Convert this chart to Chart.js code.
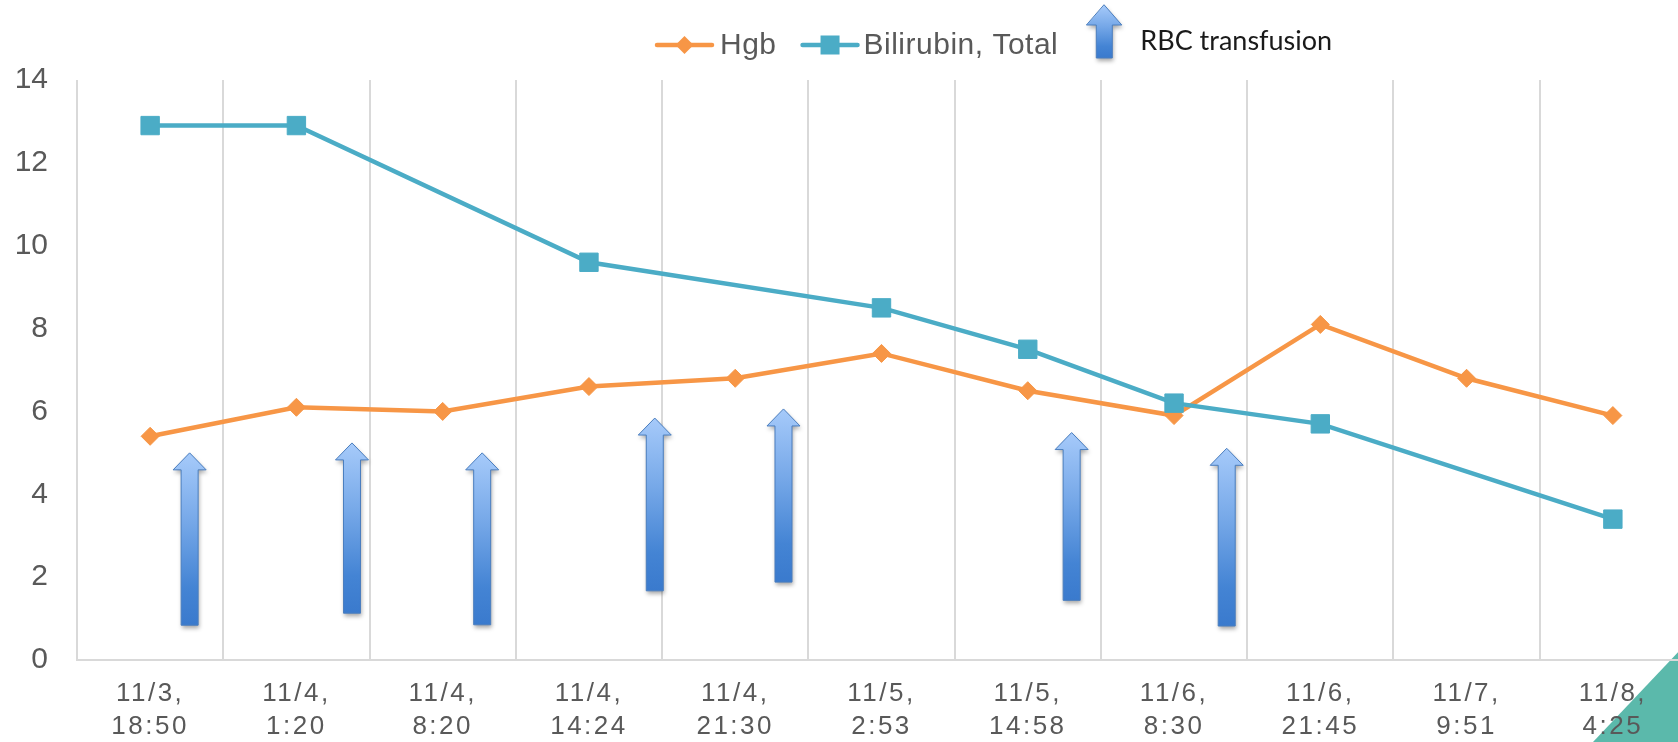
<!DOCTYPE html>
<html>
<head>
<meta charset="utf-8">
<script src="https://cdn.jsdelivr.net/npm/chart.js@4.4.1/dist/chart.umd.min.js"></script>
<style>
  html, body { margin: 0; padding: 0; background: #ffffff; overflow: hidden; }
  #wrap { position: absolute; left: 0; top: 0; width: 1700px; height: 742px; }
</style>
</head>
<body>
<div id="wrap"><canvas id="chart"></canvas></div>
<script>
// Sample times (two-line labels: date, time)
const categories = [
  ["11/3,", "18:50"], ["11/4,", "1:20"], ["11/4,", "8:20"], ["11/4,", "14:24"],
  ["11/4,", "21:30"], ["11/5,", "2:53"], ["11/5,", "14:58"], ["11/6,", "8:30"],
  ["11/6,", "21:45"], ["11/7,", "9:51"], ["11/8,", "4:25"]
];
// Hemoglobin (g/dL)
const hgb = [5.4, 6.1, 6.0, 6.6, 6.8, 7.4, 6.5, 5.9, 8.1, 6.8, 5.9];
// Total bilirubin (mg/dL); null where no sample was drawn
const bilirubin = [12.9, 12.9, null, 9.6, null, 8.5, 7.5, 6.2, 5.7, null, 3.4];
// Value axis ticks
const yTicks = [0, 2, 4, 6, 8, 10, 12, 14];
// RBC transfusions: position along the time axis (category index) and arrow extent on the value axis
const transfusionAt   = [0.27, 1.38, 2.27, 3.45, 4.33, 6.30, 7.36];
const transfusionFrom = [0.84, 1.13, 0.85, 1.67, 1.88, 1.44, 0.82];
const transfusionTo   = [5.00, 5.24, 5.00, 5.84, 6.06, 5.49, 5.11];

const ORANGE = '#F79646';
const TEAL = '#4BACC6';
const GRID = '#D9D9D9';
const TEXT = '#595959';
const FONT = "'Liberation Sans', Arial, sans-serif";

function drawArrow(ctx, cx, yTop, yBottom, shaftW, headW, headH) {
  const grad = ctx.createLinearGradient(0, yTop, 0, yBottom);
  grad.addColorStop(0, '#A6CAFA');
  grad.addColorStop(0.4, '#76A8E8');
  grad.addColorStop(0.78, '#4484D4');
  grad.addColorStop(1, '#3A7ACD');
  ctx.save();
  ctx.beginPath();
  ctx.moveTo(cx, yTop);
  ctx.lineTo(cx + headW / 2, yTop + headH);
  ctx.lineTo(cx + shaftW / 2, yTop + headH);
  ctx.lineTo(cx + shaftW / 2, yBottom);
  ctx.lineTo(cx - shaftW / 2, yBottom);
  ctx.lineTo(cx - shaftW / 2, yTop + headH);
  ctx.lineTo(cx - headW / 2, yTop + headH);
  ctx.closePath();
  ctx.shadowColor = 'rgba(0,0,0,0.35)';
  ctx.shadowBlur = 4;
  ctx.shadowOffsetX = 1;
  ctx.shadowOffsetY = 3;
  ctx.fillStyle = grad;
  ctx.fill();
  ctx.shadowColor = 'transparent';
  ctx.lineWidth = 1;
  ctx.strokeStyle = '#4A7EBF';
  ctx.stroke();
  ctx.restore();
}

// White page and the teal corner accent
const backdrop = {
  id: 'backdrop',
  beforeDraw(chart) {
    const ctx = chart.ctx;
    const w = chart.width, h = chart.height;
    ctx.save();
    ctx.fillStyle = '#ffffff';
    ctx.fillRect(0, 0, w, h);
    ctx.fillStyle = '#5BB9AB';
    ctx.beginPath();
    ctx.moveTo(1593, h);
    ctx.lineTo(1700, h - 113);
    ctx.lineTo(1700, h);
    ctx.closePath();
    ctx.fill();
    ctx.restore();
  }
};

// Spaced-out lettering for the time labels
const spacedLabels = {
  id: 'spacedLabels',
  afterLayout(chart) {
    const sc = chart.scales.x;
    if (sc && !sc._spaced) {
      const orig = sc.drawLabels;
      sc.drawLabels = function (area) {
        const ctx = this.ctx;
        ctx.save();
        if ('letterSpacing' in ctx) ctx.letterSpacing = '2.5px';
        orig.call(this, area);
        ctx.restore();
      };
      sc._spaced = true;
    }
  }
};

// Transfusion arrows placed with the chart's own scales
const transfusions = {
  id: 'transfusions',
  afterDatasetsDraw(chart) {
    const x = chart.scales.x, y = chart.scales.y;
    const ctx = chart.ctx;
    for (let i = 0; i < transfusionAt.length; i++) {
      const cx = x.getPixelForValue(transfusionAt[i]);
      const top = y.getPixelForValue(transfusionTo[i]);
      const bottom = y.getPixelForValue(transfusionFrom[i]);
      drawArrow(ctx, cx, top, bottom, 17, 33, 17);
    }
  }
};

// Legend: line-with-marker swatches plus the transfusion arrow
const legendRow = {
  id: 'legendRow',
  afterDraw(chart) {
    const ctx = chart.ctx;
    const cy = 45;
    ctx.save();
    ctx.textBaseline = 'middle';
    ctx.textAlign = 'left';
    let x = 657;

    // Hgb
    ctx.strokeStyle = ORANGE; ctx.lineWidth = 4.5; ctx.lineCap = 'round';
    ctx.beginPath(); ctx.moveTo(x, cy); ctx.lineTo(x + 55, cy); ctx.stroke();
    ctx.fillStyle = ORANGE;
    ctx.beginPath();
    ctx.moveTo(x + 27.5, cy - 9); ctx.lineTo(x + 36.5, cy); ctx.lineTo(x + 27.5, cy + 9); ctx.lineTo(x + 18.5, cy);
    ctx.closePath(); ctx.fill();
    ctx.font = '30px ' + FONT; ctx.fillStyle = TEXT;
    if ('letterSpacing' in ctx) ctx.letterSpacing = '0.5px';
    ctx.fillText('Hgb', x + 63, cy + 1);
    x += 63 + ctx.measureText('Hgb').width + 26;

    // Bilirubin, Total
    ctx.strokeStyle = TEAL;
    ctx.beginPath(); ctx.moveTo(x, cy); ctx.lineTo(x + 55, cy); ctx.stroke();
    ctx.fillStyle = TEAL;
    ctx.fillRect(x + 18, cy - 9.5, 19, 19);
    ctx.fillStyle = TEXT;
    ctx.fillText('Bilirubin, Total', x + 61, cy + 1);
    x += 61 + ctx.measureText('Bilirubin, Total').width + 33;

    // RBC transfusion
    if ('letterSpacing' in ctx) ctx.letterSpacing = '0px';
    drawArrow(ctx, x + 13, 5, 58, 16, 35, 20);
    ctx.font = "27px Lato, 'Open Sans', sans-serif";
    ctx.fillStyle = '#1A1A1A';
    ctx.fillText('RBC transfusion', x + 49, cy - 4);
    ctx.restore();
  }
};

new Chart(document.getElementById('chart'), {
  type: 'line',
  data: {
    labels: categories,
    datasets: [
      {
        label: 'Hgb',
        data: hgb,
        borderColor: ORANGE,
        backgroundColor: ORANGE,
        borderWidth: 4.5,
        pointStyle: 'rectRot',
        pointRadius: 9,
        pointBorderWidth: 1,
        tension: 0,
        order: 2
      },
      {
        label: 'Bilirubin, Total',
        data: bilirubin,
        borderColor: TEAL,
        backgroundColor: TEAL,
        borderWidth: 4.5,
        pointStyle: 'rect',
        pointRadius: 13,
        pointBorderWidth: 1,
        spanGaps: true,
        tension: 0,
        order: 1
      }
    ]
  },
  options: {
    responsive: true,
    maintainAspectRatio: false,
    animation: false,
    layout: { padding: { top: 80, right: 8, bottom: 0, left: 0 } },
    plugins: {
      legend: { display: false },
      tooltip: { enabled: false }
    },
    scales: {
      x: {
        type: 'category',
        offset: true,
        grid: { offset: true, color: GRID, lineWidth: 2, drawTicks: false },
        border: { display: true, color: GRID, width: 2 },
        ticks: {
          color: TEXT,
          padding: 17,
          maxRotation: 0,
          autoSkip: false,
          font: { family: FONT, size: 26, lineHeight: '33px' }
        },
        afterFit(scale) { scale.height = 82; }
      },
      y: {
        min: 0,
        max: 14,
        afterBuildTicks(scale) { scale.ticks = yTicks.map(v => ({ value: v })); },
        grid: { display: false, drawTicks: false },
        border: { display: false },
        ticks: {
          color: TEXT,
          padding: 29,
          font: { family: FONT, size: 30 }
        },
        afterFit(scale) { scale.width = 77; }
      }
    }
  },
  plugins: [backdrop, spacedLabels, transfusions, legendRow]
});
</script>
</body>
</html>
